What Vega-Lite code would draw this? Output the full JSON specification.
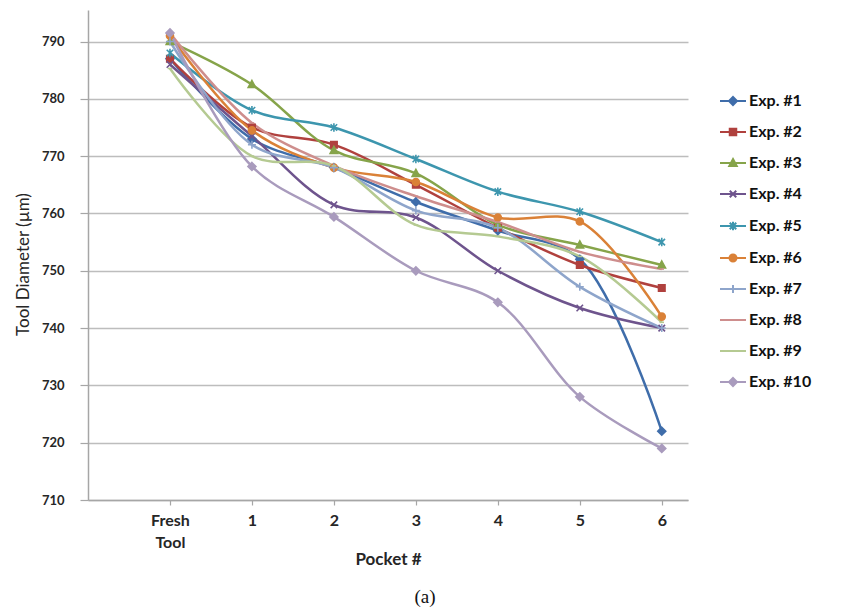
{
  "$schema": "https://vega.github.io/schema/vega-lite/v6.json",
  "width": 600,
  "height": 490,
  "autosize": {"type": "none"},
  "padding": {"left": 88, "top": 10, "right": 173, "bottom": 113},
  "background": "white",
  "title": {"text": "(a)", "orient": "bottom", "anchor": "middle", "dx": 37, "offset": 21, "font": "Liberation Serif", "fontSize": 19, "fontWeight": "normal", "color": "#111"},
  "config": {
    "view": {"stroke": null},
    "font": "Lato",
    "axis": {"labelFont": "Lato", "titleFont": "Lato", "labelColor": "#262626", "titleColor": "#262626", "domainColor": "#A6A6A6", "tickColor": "#A6A6A6", "gridColor": "#BDBDBD", "gridWidth": 1.5, "domainWidth": 1.5, "tickWidth": 1.2},
    "legend": {"title": null, "orient": "none", "legendX": 637, "legendY": 83, "padding": 0, "symbolSize": 100, "rowPadding": 15, "labelOffset": 8,
      "labelFont": "Lato", "labelFontSize": 16, "labelFontWeight": "bold", "labelColor": "#111", "symbolStrokeWidth": 2, "symbolOpacity": 1}
  },
  "data": {"values": [
    {"exp": "Exp. #1", "pocket": 0, "d": 787}, {"exp": "Exp. #1", "pocket": 1, "d": 773}, {"exp": "Exp. #1", "pocket": 2, "d": 768}, {"exp": "Exp. #1", "pocket": 3, "d": 762}, {"exp": "Exp. #1", "pocket": 4, "d": 757}, {"exp": "Exp. #1", "pocket": 5, "d": 752}, {"exp": "Exp. #1", "pocket": 6, "d": 722},
    {"exp": "Exp. #2", "pocket": 0, "d": 787}, {"exp": "Exp. #2", "pocket": 1, "d": 775}, {"exp": "Exp. #2", "pocket": 2, "d": 772}, {"exp": "Exp. #2", "pocket": 3, "d": 765}, {"exp": "Exp. #2", "pocket": 4, "d": 757.5}, {"exp": "Exp. #2", "pocket": 5, "d": 751}, {"exp": "Exp. #2", "pocket": 6, "d": 747},
    {"exp": "Exp. #3", "pocket": 0, "d": 790}, {"exp": "Exp. #3", "pocket": 1, "d": 782.5}, {"exp": "Exp. #3", "pocket": 2, "d": 771}, {"exp": "Exp. #3", "pocket": 3, "d": 767}, {"exp": "Exp. #3", "pocket": 4, "d": 758}, {"exp": "Exp. #3", "pocket": 5, "d": 754.5}, {"exp": "Exp. #3", "pocket": 6, "d": 751},
    {"exp": "Exp. #4", "pocket": 0, "d": 786}, {"exp": "Exp. #4", "pocket": 1, "d": 773.5}, {"exp": "Exp. #4", "pocket": 2, "d": 761.5}, {"exp": "Exp. #4", "pocket": 3, "d": 759.3}, {"exp": "Exp. #4", "pocket": 4, "d": 750}, {"exp": "Exp. #4", "pocket": 5, "d": 743.5}, {"exp": "Exp. #4", "pocket": 6, "d": 740},
    {"exp": "Exp. #5", "pocket": 0, "d": 788}, {"exp": "Exp. #5", "pocket": 1, "d": 778}, {"exp": "Exp. #5", "pocket": 2, "d": 775}, {"exp": "Exp. #5", "pocket": 3, "d": 769.5}, {"exp": "Exp. #5", "pocket": 4, "d": 763.8}, {"exp": "Exp. #5", "pocket": 5, "d": 760.3}, {"exp": "Exp. #5", "pocket": 6, "d": 755},
    {"exp": "Exp. #6", "pocket": 0, "d": 791}, {"exp": "Exp. #6", "pocket": 1, "d": 774.5}, {"exp": "Exp. #6", "pocket": 2, "d": 768}, {"exp": "Exp. #6", "pocket": 3, "d": 765.5}, {"exp": "Exp. #6", "pocket": 4, "d": 759.3}, {"exp": "Exp. #6", "pocket": 5, "d": 758.6}, {"exp": "Exp. #6", "pocket": 6, "d": 742},
    {"exp": "Exp. #7", "pocket": 0, "d": 790}, {"exp": "Exp. #7", "pocket": 1, "d": 772}, {"exp": "Exp. #7", "pocket": 2, "d": 768}, {"exp": "Exp. #7", "pocket": 3, "d": 760.5}, {"exp": "Exp. #7", "pocket": 4, "d": 757.5}, {"exp": "Exp. #7", "pocket": 5, "d": 747.2}, {"exp": "Exp. #7", "pocket": 6, "d": 740},
    {"exp": "Exp. #8", "pocket": 0, "d": 791.5}, {"exp": "Exp. #8", "pocket": 1, "d": 775.8}, {"exp": "Exp. #8", "pocket": 2, "d": 768.3}, {"exp": "Exp. #8", "pocket": 3, "d": 763}, {"exp": "Exp. #8", "pocket": 4, "d": 758.5}, {"exp": "Exp. #8", "pocket": 5, "d": 753.3}, {"exp": "Exp. #8", "pocket": 6, "d": 750.3},
    {"exp": "Exp. #9", "pocket": 0, "d": 785.3}, {"exp": "Exp. #9", "pocket": 1, "d": 770}, {"exp": "Exp. #9", "pocket": 2, "d": 768.3}, {"exp": "Exp. #9", "pocket": 3, "d": 758}, {"exp": "Exp. #9", "pocket": 4, "d": 756}, {"exp": "Exp. #9", "pocket": 5, "d": 752.5}, {"exp": "Exp. #9", "pocket": 6, "d": 741},
    {"exp": "Exp. #10", "pocket": 0, "d": 791.5}, {"exp": "Exp. #10", "pocket": 1, "d": 768.2}, {"exp": "Exp. #10", "pocket": 2, "d": 759.4}, {"exp": "Exp. #10", "pocket": 3, "d": 750}, {"exp": "Exp. #10", "pocket": 4, "d": 744.5}, {"exp": "Exp. #10", "pocket": 5, "d": 728}, {"exp": "Exp. #10", "pocket": 6, "d": 719}
  ]},
  "encoding": {
    "x": {"field": "pocket", "type": "quantitative", "scale": {"domain": [-1, 6.32], "nice": false, "zero": false},
      "axis": {"title": "Pocket #", "values": [0, 1, 2, 3, 4, 5, 6], "grid": false, "labelExpr": "datum.value == 0 ? ['Fresh', 'Tool'] : datum.label", "labelFontSize": 16, "labelFontWeight": "bold", "labelPadding": 7, "tickSize": 5, "titleFontSize": 17, "titleFontWeight": "bold", "titlePadding": 1, "labelLineHeight": 22}},
    "y": {"field": "d", "type": "quantitative", "scale": {"domain": [710, 795.5], "nice": false, "zero": false},
      "axis": {"title": "Tool Diameter (µm)", "values": [710, 720, 730, 740, 750, 760, 770, 780, 790], "labelFontSize": 13, "labelFontWeight": "bold", "tickSize": 8, "labelPadding": 16, "titleFontSize": 17, "titleFontWeight": "normal", "titlePadding": 9, "titleY": 254}}
  },
  "resolve": {"scale": {"shape": "independent"}, "legend": {"color": "independent", "stroke": "independent", "shape": "independent"}},
  "layer": [
    {"mark": {"type": "line", "interpolate": "catmull-rom", "strokeWidth": 2.5},
     "encoding": {
       "color": {"field": "exp", "type": "nominal", "legend": null,
         "scale": {"domain": ["Exp. #1", "Exp. #2", "Exp. #3", "Exp. #4", "Exp. #5", "Exp. #6", "Exp. #7", "Exp. #8", "Exp. #9", "Exp. #10"],
           "range": ["#3F6DAA", "#B0413E", "#86A44A", "#6E548D", "#3D96AE", "#DA8137", "#8EA5CB", "#CE8E8D", "#B5CA92", "#A99BBD"]}}}},
    {"mark": {"type": "point", "filled": true, "opacity": 1, "size": 100, "strokeWidth": 1.6},
     "encoding": {
       "color": {"field": "exp", "type": "nominal", "legend": null},
       "stroke": {"field": "exp", "type": "nominal", "legend": null,
         "scale": {"domain": ["Exp. #1", "Exp. #2", "Exp. #3", "Exp. #4", "Exp. #5", "Exp. #6", "Exp. #7", "Exp. #8", "Exp. #9", "Exp. #10"],
           "range": ["#3F6DAA", "#B0413E", "#86A44A", "#6E548D", "#3D96AE", "#DA8137", "#8EA5CB", "#CE8E8D", "#B5CA92", "#A99BBD"]}},
       "shape": {"field": "exp", "type": "nominal", "legend": null,
         "scale": {"domain": ["Exp. #1", "Exp. #2", "Exp. #3", "Exp. #4", "Exp. #5", "Exp. #6", "Exp. #7", "Exp. #8", "Exp. #9", "Exp. #10"],
           "range": [
             "M0,-0.8L0.8,0L0,0.8L-0.8,0Z",
             "M-0.65,-0.65L0.65,-0.65L0.65,0.65L-0.65,0.65Z",
             "M0,-0.8L0.75,0.6L-0.75,0.6Z",
             "M-0.65,-0.65L0.65,0.65M-0.65,0.65L0.65,-0.65",
             "M-0.65,-0.65L0.65,0.65M-0.65,0.65L0.65,-0.65M0,-0.85L0,0.85",
             "M-0.7,0A0.7,0.7,0,1,0,0.7,0A0.7,0.7,0,1,0,-0.7,0Z",
             "M-0.8,0L0.8,0M0,-0.8L0,0.8",
             "M-0.45,0L0.45,0",
             "M-0.45,0L0.45,0",
             "M0,-0.8L0.8,0L0,0.8L-0.8,0Z"
           ]}}
     }},
    {"transform": [{"filter": "false"}],
     "mark": {"type": "point", "filled": true, "opacity": 1, "size": 100, "strokeWidth": 2},
     "encoding": {
       "color": {"field": "exp", "type": "nominal"},
       "stroke": {"field": "exp", "type": "nominal"},
       "shape": {"field": "exp", "type": "nominal",
         "scale": {"domain": ["Exp. #1", "Exp. #2", "Exp. #3", "Exp. #4", "Exp. #5", "Exp. #6", "Exp. #7", "Exp. #8", "Exp. #9", "Exp. #10"],
           "range": [
             "M-2.6,0L2.6,0M0,-0.8L0.8,0L0,0.8L-0.8,0Z",
             "M-2.6,0L2.6,0M-0.65,-0.65L0.65,-0.65L0.65,0.65L-0.65,0.65Z",
             "M-2.6,0L2.6,0M0,-0.8L0.75,0.6L-0.75,0.6Z",
             "M-2.6,0L2.6,0M-0.65,-0.65L0.65,0.65M-0.65,0.65L0.65,-0.65",
             "M-2.6,0L2.6,0M-0.65,-0.65L0.65,0.65M-0.65,0.65L0.65,-0.65M0,-0.85L0,0.85",
             "M-2.6,0L2.6,0M-0.7,0A0.7,0.7,0,1,0,0.7,0A0.7,0.7,0,1,0,-0.7,0Z",
             "M-2.6,0L2.6,0M-0.8,0L0.8,0M0,-0.8L0,0.8",
             "M-2.6,0L2.6,0",
             "M-2.6,0L2.6,0",
             "M-2.6,0L2.6,0M0,-0.8L0.8,0L0,0.8L-0.8,0Z"
           ]}}
     }}
  ]
}
